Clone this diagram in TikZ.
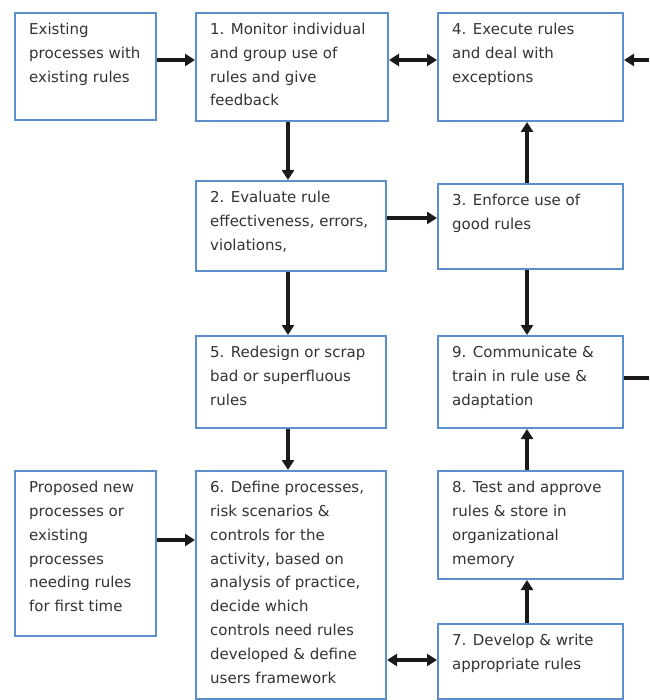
\documentclass[tikz,border=0pt]{standalone}
\usepackage{fontspec}
\setmainfont{DejaVu Sans}
\usetikzlibrary{arrows.meta,calc}
\definecolor{boxblue}{HTML}{5B8FCB}
\definecolor{txtgray}{HTML}{333333}
\definecolor{arrowblk}{HTML}{1A1A1A}
\begin{document}
\begin{tikzpicture}[x=1pt,y=-1pt,
  boxr/.style={draw=boxblue,line width=2pt,fill=white,inner sep=0pt},
  txt/.style={anchor=north west,inner sep=0pt,align=left,text=txtgray,font=\fontsize{15}{23.8}\selectfont},
  arr/.style={draw=arrowblk,line width=3.5pt,-{Triangle[length=10pt,width=12pt]}},
  darr/.style={draw=arrowblk,line width=3.5pt,{Triangle[length=10pt,width=12pt]}-{Triangle[length=10pt,width=12pt]}},
  ln/.style={draw=arrowblk,line width=3.5pt}]
\useasboundingbox (0,0) rectangle (649,700);
% boxes: name, left, top, right, bottom
\newcommand{\mybox}[6]{%
  \node[boxr,minimum width=#4-#2,minimum height=#5-#3,anchor=north west] (#1) at (#2,#3) {};
  \node[txt] at ($(#1.north west)+(15,11)$) {#6};}
\mybox{A}{14}{12}{155}{119}{Existing\\processes with\\existing rules}
\mybox{b1}{195}{12}{387}{120}{1. Monitor individual\\and group use of\\rules and give\\feedback}
\mybox{b4}{437}{12}{622}{120}{4. Execute rules\\and deal with\\exceptions}
\mybox{b2}{195}{180}{385}{270}{2. Evaluate rule\\effectiveness, errors,\\violations,}
\mybox{b3}{437}{183}{622}{268}{3. Enforce use of\\good rules}
\mybox{b5}{195}{335}{385}{427}{5. Redesign or scrap\\bad or superfluous\\rules}
\mybox{b9}{437}{335}{622}{427}{9. Communicate \&\\train in rule use \&\\adaptation}
\mybox{B}{14}{470}{155}{635}{Proposed new\\processes or\\existing\\processes\\needing rules\\for first time}
\mybox{b6}{195}{470}{385}{698}{6. Define processes,\\risk scenarios \&\\controls for the\\activity, based on\\analysis of practice,\\decide which\\controls need rules\\developed \& define\\users framework}
\mybox{b8}{437}{470}{622}{578}{8. Test and approve\\rules \& store in\\organizational\\memory}
\mybox{b7}{437}{623}{622}{698}{7. Develop \& write\\appropriate rules}
\coordinate (rin) at (649,60);
\coordinate (rout) at (649,378);
% connectors
\draw[arr] (A.east |- 0,60) -- (b1.west |- 0,60);
\draw[darr] (b1.east |- 0,60) -- (b4.west |- 0,60);
\draw[arr] (rin) -- (b4.east |- rin);
\draw[arr] (b1.south -| 288,0) -- (b2.north -| 288,0);
\draw[arr] (b2.east |- 0,218) -- (b3.west |- 0,218);
\draw[arr] (b3.north -| 527,0) -- (b4.south -| 527,0);
\draw[arr] (b3.south -| 527,0) -- (b9.north -| 527,0);
\draw[arr] (b2.south -| 288,0) -- (b5.north -| 288,0);
\draw[arr] (b5.south -| 288,0) -- (b6.north -| 288,0);
\draw[arr] (B.east |- 0,540) -- (b6.west |- 0,540);
\draw[darr] (b6.east |- 0,660) -- (b7.west |- 0,660);
\draw[arr] (b7.north -| 527,0) -- (b8.south -| 527,0);
\draw[arr] (b8.north -| 527,0) -- (b9.south -| 527,0);
\draw[ln] (b9.east |- rout) -- (rout);
\end{tikzpicture}
\end{document}
